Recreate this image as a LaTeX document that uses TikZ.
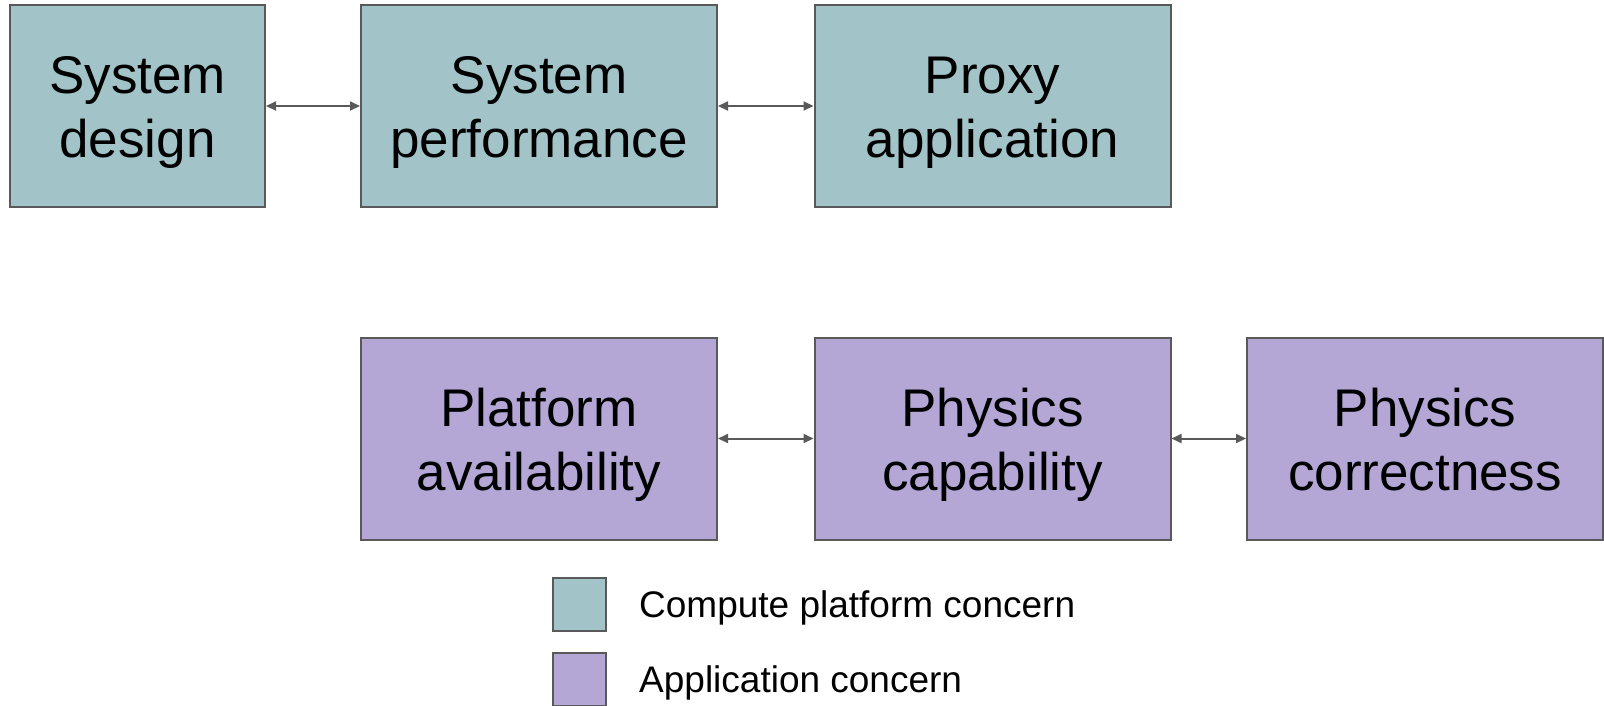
\documentclass[tikz,border=0pt]{standalone}
\usepackage{fontspec}
\setmainfont{Liberation Sans}
\usetikzlibrary{arrows.meta}
\definecolor{compute}{HTML}{A2C4C9}
\definecolor{appl}{HTML}{B4A7D6}
\definecolor{edge}{HTML}{595959}
\begin{document}
\begin{tikzpicture}[x=1pt,y=-1pt,
  box/.style={draw=edge, line width=2pt, minimum height=202pt, align=center,
    font=\fontsize{53}{64}\selectfont, inner sep=0pt,
    text height=106.5pt, text depth=3.5pt},
  wide/.style={box, minimum width=356pt},
  link/.style={draw=edge, line width=2pt, {Triangle[length=10pt,width=9pt]}-{Triangle[length=10pt,width=9pt]}},
  key/.style={draw=edge, line width=2pt, minimum width=53pt, minimum height=53pt, inner sep=0pt},
  keytext/.style={anchor=base west, inner sep=0pt, font=\fontsize{37}{44}\selectfont}]
\useasboundingbox (0,0) rectangle (1604,705);
% compute platform row
\node[box, minimum width=255pt, fill=compute] (sd) at (137.5,106) {System\\design};
\node[wide, fill=compute] (sp) at (539,106) {System\\performance};
\node[wide, fill=compute] (pa) at (992.5,106) {Proxy\\application};
% application row
\node[wide, fill=appl] (plat) at (539,438.5) {Platform\\availability};
\node[wide, fill=appl] (cap) at (992.5,438.5) {Physics\\capability};
\node[wide, fill=appl] (corr) at (1425,438.5) {Physics\\correctness};
% links
\draw[link] (sd) -- (sp);
\draw[link] (sp) -- (pa);
\draw[link] (plat) -- (cap);
\draw[link] (cap) -- (corr);
% legend
\node[key, fill=compute] (k1) at (579,604.5) {};
\node[key, fill=appl] (k2) at (579,679.5) {};
\node[keytext] (t1) at (639,617.5) {Compute platform concern};
\node[keytext] (t2) at (639,692.5) {Application concern};
\end{tikzpicture}
\end{document}
